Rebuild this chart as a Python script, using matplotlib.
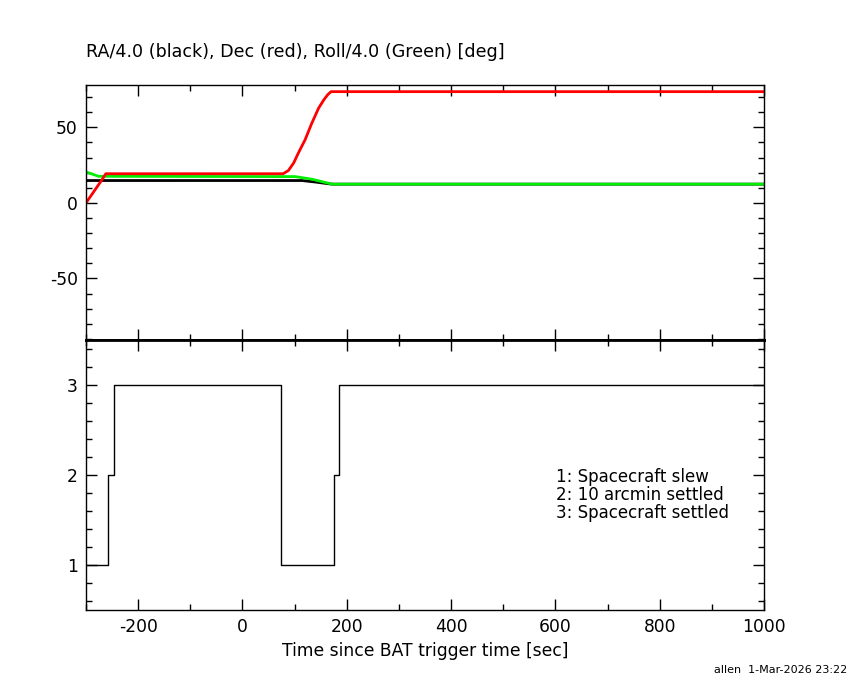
import matplotlib

matplotlib.use("Agg")
import matplotlib.pyplot as plt
from matplotlib.ticker import MultipleLocator

plt.rcParams["axes.unicode_minus"] = False

# attitude curves (breakpoints)
ra_t = [-300, 114, 140, 162, 172, 1000]
ra_v = [14.8, 14.8, 13.8, 12.8, 12.4, 12.4]

dec_t = [-300, -290, -272, -262, 78, 88, 98, 107, 120, 133, 146, 156, 164, 170, 1000]
dec_v = [0.0, 5.0, 14.0, 19.3, 19.3, 21.4, 26.3, 32.9, 41.7, 52.8, 62.7, 68.2, 71.8, 73.6, 73.6]

roll_t = [-300, -276, 101, 133, 172, 1000]
roll_v = [20.5, 17.6, 17.4, 15.7, 12.4, 12.4]

# settling flag steps
flag_t = [-300, -257, -246, 74, 175, 186, 1000]
flag_v = [1, 2, 3, 1, 2, 3, 3]

flag_notes = ["1: Spacecraft slew", "2: 10 arcmin settled", "3: Spacecraft settled"]

FS = 12.3

fig = plt.figure(figsize=(8.5, 6.8), dpi=100)
ax1 = fig.add_axes([0.1012, 0.5, 0.7976, 0.375])
ax2 = fig.add_axes([0.1012, 0.1029, 0.7976, 0.3971])

ax1.plot(ra_t, ra_v, color="black", lw=2)
ax1.plot(roll_t, roll_v, color="#00ee00", lw=2)
ax1.plot(dec_t, dec_v, color="red", lw=2)
ax1.set_xlim(-300, 1000)
ax1.set_ylim(-90.7, 78)
ax1.yaxis.set_major_locator(MultipleLocator(50))
ax1.yaxis.set_minor_locator(MultipleLocator(10))
ax1.set_xticklabels([])
ax1.set_title("RA/4.0 (black), Dec (red), Roll/4.0 (Green) [deg]", loc="left", fontsize=12.6, pad=20)

ax2.step(flag_t, flag_v, where="post", color="black", lw=1)
ax2.set_xlim(-300, 1000)
ax2.set_ylim(0.5, 3.5)
ax2.yaxis.set_major_locator(MultipleLocator(1))
ax2.yaxis.set_minor_locator(MultipleLocator(0.2))
ax2.set_xlabel("Time since BAT trigger time [sec]", fontsize=FS, labelpad=4)
for i, note in enumerate(flag_notes):
    ax2.text(0.693, 0.493 - i * 0.067, note, transform=ax2.transAxes, fontsize=12, va="center")

for ax in (ax1, ax2):
    ax.xaxis.set_major_locator(MultipleLocator(200))
    ax.xaxis.set_minor_locator(MultipleLocator(100))
    ax.tick_params(which="both", direction="in", top=True, right=True, labelsize=FS)
    ax.tick_params(which="major", length=8, width=1, pad=6)
    ax.tick_params(which="minor", length=4, width=1)
    for s in ax.spines.values():
        s.set_linewidth(1)
ax1.spines["bottom"].set_linewidth(2)
ax2.spines["top"].set_linewidth(2)

fig.text(0.997, 0.008, "allen  1-Mar-2026 23:22", ha="right", va="bottom", fontsize=8)

fig.savefig("out.png", dpi=100)
